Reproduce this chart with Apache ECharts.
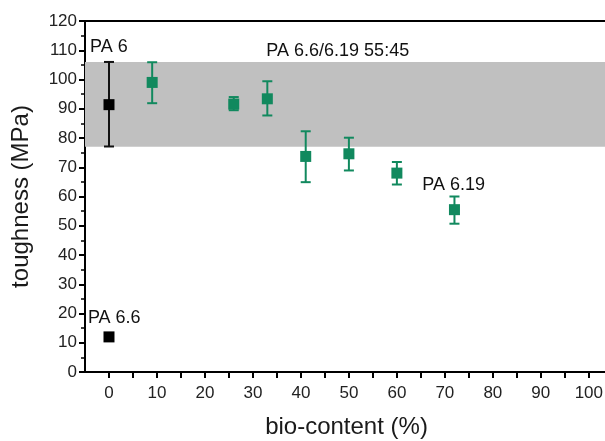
<!DOCTYPE html>
<html>
<head>
<meta charset="utf-8">
<script src="https://cdn.jsdelivr.net/npm/echarts@6/dist/echarts.min.js"></script>
<style>
  html, body { margin: 0; padding: 0; background: #fff; }
  #chart { width: 605px; height: 441px; }
</style>
</head>
<body>
<div id="chart"></div>
<script>
// 数据
var blackX = [0, 0];
var blackY = [91.4, 12.0];
var blackLow = [77.1, 11.0];
var blackHigh = [106.0, 13.0];

var greenX = [9, 26, 33, 41, 50, 60, 72];
var greenY = [99.0, 91.6, 93.4, 73.7, 74.6, 68.0, 55.5];
var greenLow = [91.9, 89.5, 87.7, 64.9, 68.9, 64.1, 50.7];
var greenHigh = [105.9, 94.0, 99.4, 82.3, 80.1, 71.8, 60.0];

var bandRange = [77, 106]; // PA 6.6/6.19 55:45 范围

var labelText = ['PA 6', 'PA 6.6/6.19 55:45', 'PA 6.19', 'PA 6.6'];
var labelX = [-3.95, 32.8, 65.3, -4.4];
var labelY = [111.1, 109.7, 63.9, 18.6];

var GREEN = '#11895e';
var FONT = '"Liberation Sans", Arial, sans-serif';

function pts(xs, ys) {
  return xs.map(function (x, i) { return [x, ys[i]]; });
}
function errData(xs, lo, hi) {
  return xs.map(function (x, i) { return [x, lo[i], hi[i]]; });
}
// 误差棒
function errorBar(color) {
  return function (params, api) {
    var x = api.value(0);
    var lo = api.coord([x, api.value(1)]);
    var hi = api.coord([x, api.value(2)]);
    var w = 5;
    var style = { stroke: color, lineWidth: 2 };
    return {
      type: 'group',
      children: [
        { type: 'line', shape: { x1: lo[0], y1: lo[1], x2: hi[0], y2: hi[1] }, style: style },
        { type: 'line', shape: { x1: lo[0] - w, y1: lo[1], x2: lo[0] + w, y2: lo[1] }, style: style },
        { type: 'line', shape: { x1: hi[0] - w, y1: hi[1], x2: hi[0] + w, y2: hi[1] }, style: style }
      ]
    };
  };
}

var chart = echarts.init(document.getElementById('chart'));
chart.setOption({
  animation: false,
  grid: {
    left: 85,
    top: 21,
    right: -3,
    bottom: 69,
    outerBoundsMode: 'none',
    containLabel: false,
    show: true,
    borderColor: '#000',
    borderWidth: 2
  },
  xAxis: {
    type: 'value',
    min: -5,
    max: 104,
    interval: 5,
    name: 'bio-content (%)',
    nameLocation: 'middle',
    nameGap: 43,
    nameTextStyle: { fontSize: 24, color: '#1a1a1a', fontFamily: FONT },
    axisLine: { show: true, onZero: false, lineStyle: { color: '#000', width: 2 } },
    axisTick: { show: true, inside: false, length: 6, lineStyle: { color: '#000', width: 2 } },
    splitLine: { show: false },
    axisLabel: {
      fontSize: 17,
      color: '#222',
      fontFamily: FONT,
      margin: 13,
      showMinLabel: false,
      showMaxLabel: false,
      formatter: function (v) { return v % 10 === 0 && v >= 0 ? v : ''; }
    }
  },
  yAxis: {
    type: 'value',
    min: 0,
    max: 120,
    interval: 10,
    name: 'toughness (MPa)',
    nameLocation: 'middle',
    nameGap: 52,
    nameTextStyle: { fontSize: 24, color: '#1a1a1a', fontFamily: FONT },
    axisLine: { show: true, onZero: false, lineStyle: { color: '#000', width: 2 } },
    axisTick: { show: true, length: 6, lineStyle: { color: '#000', width: 2 } },
    minorTick: { show: true, splitNumber: 2, length: 4, lineStyle: { color: '#000', width: 1.5 } },
    splitLine: { show: false },
    axisLabel: { fontSize: 17, color: '#222', fontFamily: FONT, margin: 8 }
  },
  series: [{
    name: 'band',
    type: 'line',
    data: [],
    markArea: {
      silent: true,
      itemStyle: { color: '#c0c0c0', opacity: 1 },
      data: [[{ yAxis: bandRange[0] }, { yAxis: bandRange[1] }]]
    }
  }, {
    name: 'black err',
    type: 'custom',
    renderItem: errorBar('#111'),
    encode: { x: 0, y: [1, 2] },
    data: errData(blackX, blackLow, blackHigh),
    z: 3
  }, {
    name: 'green err',
    type: 'custom',
    renderItem: errorBar(GREEN),
    encode: { x: 0, y: [1, 2] },
    data: errData(greenX, greenLow, greenHigh),
    z: 3
  }, {
    name: 'black',
    type: 'scatter',
    symbol: 'rect',
    symbolSize: 11,
    itemStyle: { color: '#000', opacity: 1 },
    data: pts(blackX, blackY),
    z: 4
  }, {
    name: 'green',
    type: 'scatter',
    symbol: 'rect',
    symbolSize: 11,
    itemStyle: { color: GREEN, opacity: 1 },
    data: pts(greenX, greenY),
    z: 4
  }, {
    name: 'labels',
    type: 'scatter',
    symbolSize: 0,
    silent: true,
    itemStyle: { opacity: 1 },
    data: labelX.map(function (x, i) {
      return { value: [x, labelY[i]], name: labelText[i] };
    }),
    label: {
      show: true,
      position: 'right',
      distance: 0,
      formatter: '{b}',
      fontSize: 18,
      color: '#111',
      fontFamily: FONT
    },
    z: 5
  }]
});
</script>
</body>
</html>
